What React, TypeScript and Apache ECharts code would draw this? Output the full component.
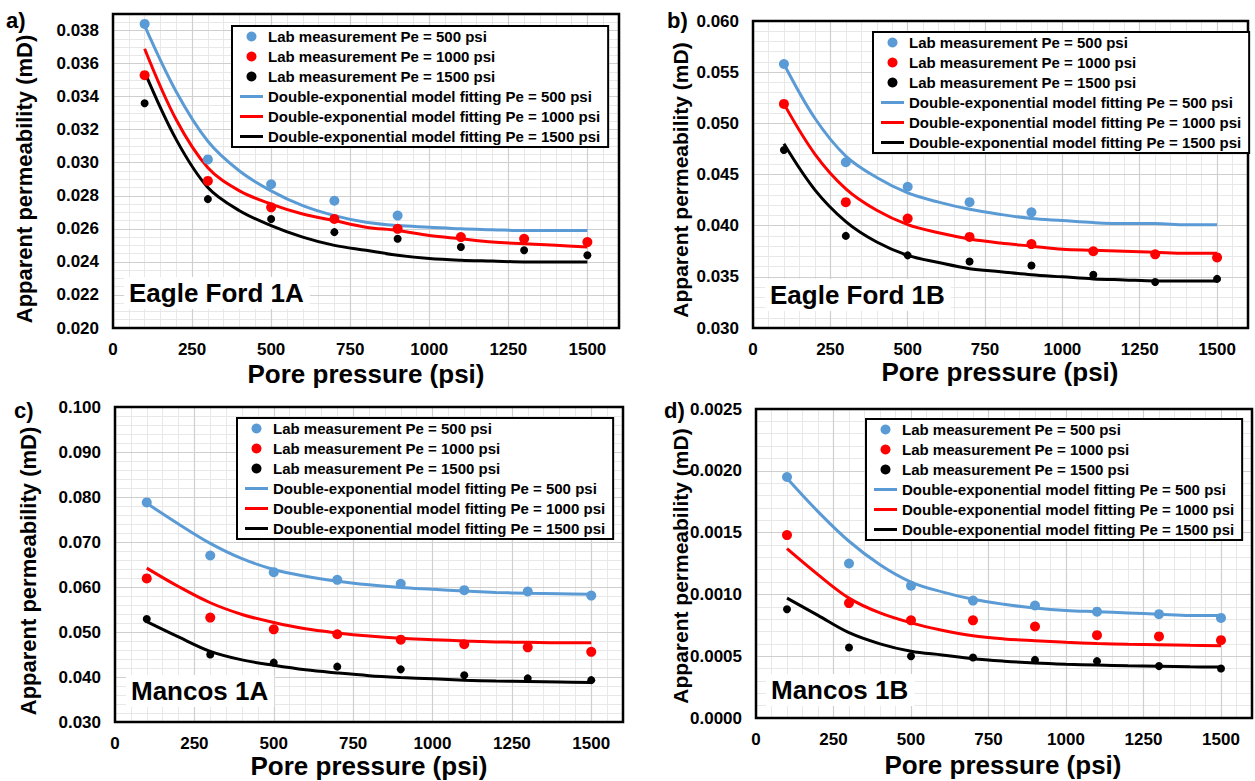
import React, { useEffect, useRef } from 'react';
import * as echarts from 'echarts';

// ---------- data ----------
const pressures = [100, 300, 500, 700, 900, 1100, 1300, 1500];
const fitPressures = [100, 200, 300, 400, 500, 600, 700, 800, 900, 1000, 1100, 1200, 1300, 1400, 1500];
const xTickLabels = [0, 250, 500, 750, 1000, 1250, 1500];

const seriesNames = [
  'Lab measurement Pe = 500 psi',
  'Lab measurement Pe = 1000 psi',
  'Lab measurement Pe = 1500 psi',
  'Double-exponential model fitting Pe = 500 psi',
  'Double-exponential model fitting Pe = 1000 psi',
  'Double-exponential model fitting Pe = 1500 psi',
];
const panelLetters = ['a)', 'b)', 'c)', 'd)'];
const sampleNames = ['Eagle Ford 1A', 'Eagle Ford 1B', 'Mancos 1A', 'Mancos 1B'];

// a) Eagle Ford 1A
const efaLab500 = [0.0384, 0.0302, 0.0287, 0.0277, 0.0268];
const efaLab1000 = [0.0353, 0.0289, 0.0273, 0.0266, 0.026, 0.0255, 0.0254, 0.0252];
const efaLab1500 = [0.0336, 0.0278, 0.0266, 0.0258, 0.0254, 0.0249, 0.0247, 0.0244];
const efaFit500 = [0.0383, 0.0343, 0.0313, 0.0295, 0.0283, 0.0274, 0.0268, 0.0264, 0.0262, 0.0261, 0.026, 0.02595, 0.0259, 0.0259, 0.0259];
const efaFit1000 = [0.0369, 0.0326, 0.0297, 0.0283, 0.0275, 0.0269, 0.0265, 0.0261, 0.0259, 0.0256, 0.0254, 0.0252, 0.0251, 0.025, 0.0249];
const efaFit1500 = [0.0355, 0.0314, 0.0285, 0.0271, 0.0262, 0.0255, 0.025, 0.0247, 0.0244, 0.0242, 0.0241, 0.02405, 0.024, 0.024, 0.024];

// b) Eagle Ford 1B
const efbLab500 = [0.0558, 0.0462, 0.0438, 0.0423, 0.0413];
const efbLab1000 = [0.0519, 0.0423, 0.0407, 0.0389, 0.0382, 0.0375, 0.0372, 0.0369];
const efbLab1500 = [0.0474, 0.039, 0.0371, 0.0365, 0.0361, 0.0352, 0.0345, 0.0348];
const efbFit500 = [0.0558, 0.0505, 0.0468, 0.0447, 0.0432, 0.0423, 0.0416, 0.0411, 0.0407, 0.0405, 0.0403, 0.0402, 0.0402, 0.0401, 0.0401];
const efbFit1000 = [0.0519, 0.047, 0.0436, 0.0415, 0.0401, 0.0393, 0.0387, 0.0383, 0.038, 0.0377, 0.0376, 0.0375, 0.0374, 0.0373, 0.0373];
const efbFit1500 = [0.048, 0.0435, 0.0404, 0.0384, 0.0371, 0.0364, 0.0358, 0.0355, 0.0352, 0.035, 0.0348, 0.0347, 0.0346, 0.0346, 0.0346];

// c) Mancos 1A
const mcaLab500 = [0.0788, 0.067, 0.0633, 0.0616, 0.0607, 0.0593, 0.059, 0.0581];
const mcaLab1000 = [0.0619, 0.0532, 0.0506, 0.0495, 0.0483, 0.0473, 0.0466, 0.0456];
const mcaLab1500 = [0.0529, 0.045, 0.0432, 0.0423, 0.0417, 0.0404, 0.0397, 0.0393];
const mcaFit500 = [0.0786, 0.074, 0.0697, 0.0663, 0.0639, 0.0624, 0.0613, 0.0605, 0.0599, 0.0595, 0.0591, 0.0588, 0.0586, 0.0585, 0.0584];
const mcaFit1000 = [0.0642, 0.0601, 0.0565, 0.0539, 0.0521, 0.0507, 0.0498, 0.0491, 0.0486, 0.0483, 0.048, 0.0478, 0.0477, 0.0476, 0.0476];
const mcaFit1500 = [0.0523, 0.0489, 0.0457, 0.0438, 0.0426, 0.0416, 0.0409, 0.0403, 0.0399, 0.0396, 0.0393, 0.0391, 0.039, 0.0389, 0.0388];

// d) Mancos 1B
const mcbLab500 = [0.00195, 0.00125, 0.00107, 0.00095, 0.00091, 0.00086, 0.00084, 0.00081];
const mcbLab1000 = [0.00148, 0.00093, 0.00079, 0.00079, 0.00074, 0.00067, 0.00066, 0.00063];
const mcbLab1500 = [0.00088, 0.00057, 0.0005, 0.00049, 0.00047, 0.00046, 0.00042, 0.0004];
const mcbFit500 = [0.00194, 0.00167, 0.00143, 0.00124, 0.0011, 0.00102, 0.00096, 0.00092, 0.00089, 0.00087, 0.00086, 0.00085, 0.00084, 0.00083, 0.00083];
const mcbFit1000 = [0.00137, 0.00116, 0.00097, 0.00085, 0.00077, 0.00071, 0.000665, 0.00064, 0.000625, 0.000612, 0.000603, 0.000596, 0.000592, 0.000588, 0.000585];
const mcbFit1500 = [0.00097, 0.00083, 0.00069, 0.0006, 0.00054, 0.00051, 0.00048, 0.00046, 0.000445, 0.000435, 0.000428, 0.000422, 0.000418, 0.000414, 0.000412];

// y axis settings per panel
const yMins = [0.02, 0.03, 0.03, 0];
const yMaxs = [0.039, 0.06, 0.1, 0.0025];
const yIntervals = [0.002, 0.005, 0.01, 0.0005];
const yMinorIntervals = [0.0005, 0.001, 0.002, 0.0001];
const yDecimals = [3, 3, 3, 4];

const labData = [
  [efaLab500, efaLab1000, efaLab1500],
  [efbLab500, efbLab1000, efbLab1500],
  [mcaLab500, mcaLab1000, mcaLab1500],
  [mcbLab500, mcbLab1000, mcbLab1500],
];
const fitData = [
  [efaFit500, efaFit1000, efaFit1500],
  [efbFit500, efbFit1000, efbFit1500],
  [mcaFit500, mcaFit1000, mcaFit1500],
  [mcbFit500, mcbFit1000, mcbFit1500],
];

// ---------- layout / style ----------
const FONT = 'Arial, "Liberation Sans", sans-serif';
const colors = ['#5B9BD5', '#FF0000', '#000000'];
const grids = [
  { left: 113, top: 14, width: 506, height: 314 },
  { left: 753, top: 21, width: 495, height: 307 },
  { left: 115, top: 407, width: 508, height: 315 },
  { left: 756, top: 409, width: 496, height: 309 },
];
const legendPos = [
  { left: 232, top: 26 },
  { left: 873, top: 32 },
  { left: 237, top: 418 },
  { left: 866, top: 419 },
];
const letterPos = [[6, 20], [667, 20], [14, 410], [664, 410]];
const yTitlePos = [[24, 179], [680, 180], [28, 571], [680, 566]];
const yTitleSize = [22, 21, 22, 21];
const xTitlePos = [[366, 374], [1000, 372], [369, 766], [1003, 765]];
const samplePos = [[124, 293], [765, 295], [126, 691], [766, 690]];

function buildOption() {
  const xAxis: any[] = [];
  const yAxis: any[] = [];
  const series: any[] = [];
  const legend: any[] = [];
  const graphic: any[] = [];

  grids.forEach((g, i) => {
    xAxis.push({
      gridIndex: i, type: 'value', min: 0, max: 1600, interval: 250, z: 1,
      axisLine: { show: false }, axisTick: { show: false },
      axisLabel: {
        margin: 13, color: '#000', fontWeight: 'bold', fontSize: 17, fontFamily: FONT,
        formatter: (v: number) => (xTickLabels.indexOf(Math.round(v)) >= 0 ? String(Math.round(v)) : ''),
      },
      splitLine: { show: true, lineStyle: { color: '#cfcfcf', width: 1.2 } },
    });
    xAxis.push({
      gridIndex: i, type: 'value', min: 0, max: 1600, interval: 50, z: 0,
      axisLine: { show: false }, axisTick: { show: false }, axisLabel: { show: false },
      splitLine: { show: true, lineStyle: { color: '#e8e8e8', width: 1 } },
    });
    yAxis.push({
      gridIndex: i, type: 'value', min: yMins[i], max: yMaxs[i], interval: yIntervals[i], z: 1,
      axisLine: { show: false }, axisTick: { show: false },
      axisLabel: {
        margin: 14, color: '#000', fontWeight: 'bold', fontSize: 17, fontFamily: FONT,
        showMaxLabel: i !== 0,
        formatter: (v: number) => v.toFixed(yDecimals[i]),
      },
      splitLine: { show: true, lineStyle: { color: '#cfcfcf', width: 1.2 } },
    });
    yAxis.push({
      gridIndex: i, type: 'value', min: yMins[i], max: yMaxs[i], interval: yMinorIntervals[i], z: 0,
      axisLine: { show: false }, axisTick: { show: false }, axisLabel: { show: false },
      splitLine: { show: true, lineStyle: { color: '#e8e8e8', width: 1 } },
    });

    fitData[i].forEach((vals, k) => {
      series.push({
        name: seriesNames[3 + k], type: 'line', xAxisIndex: 2 * i, yAxisIndex: 2 * i,
        data: vals.map((v, j) => [fitPressures[j], v]),
        smooth: 0.35, symbol: 'none', z: 3,
        lineStyle: { color: colors[k], width: 3 }, itemStyle: { color: colors[k] },
      });
    });
    labData[i].forEach((vals, k) => {
      series.push({
        name: seriesNames[k], type: 'scatter', xAxisIndex: 2 * i, yAxisIndex: 2 * i,
        data: vals.map((v, j) => [pressures[j], v]),
        symbol: 'circle', symbolSize: k === 2 ? 8 : 10, z: 4,
        itemStyle: { color: colors[k], opacity: 1 },
      });
    });

    legend.push({
      ...legendPos[i], orient: 'vertical', z: 10,
      itemWidth: 23, itemHeight: 10, itemGap: 5,
      padding: [3, 8, 3, 8],
      backgroundColor: '#fff', borderColor: '#000', borderWidth: 2,
      selectedMode: false,
      textStyle: { color: '#000', fontWeight: 'bold', fontSize: 15, fontFamily: FONT },
      data: seriesNames.map((n, k) =>
        k < 3 ? { name: n, icon: 'circle' } : { name: n, icon: 'path://M0,0H23V3H0Z' }
      ),
    });

    graphic.push({
      type: 'text', x: letterPos[i][0], y: letterPos[i][1], z: 5,
      style: { text: panelLetters[i], font: `bold 22px ${FONT}`, fill: '#000', align: 'left', verticalAlign: 'middle' },
    });
    graphic.push({
      type: 'text', x: yTitlePos[i][0], y: yTitlePos[i][1], rotation: Math.PI / 2, z: 5,
      style: {
        text: 'Apparent permeability (mD)',
        font: `bold ${yTitleSize[i]}px ${FONT}`,
        fill: '#000', align: 'center', verticalAlign: 'middle',
      },
    });
    graphic.push({
      type: 'text', x: xTitlePos[i][0], y: xTitlePos[i][1], z: 5,
      style: { text: 'Pore pressure (psi)', font: `bold 26px ${FONT}`, fill: '#000', align: 'center', verticalAlign: 'middle' },
    });
    graphic.push({
      type: 'text', x: samplePos[i][0], y: samplePos[i][1], z: 2,
      style: {
        text: sampleNames[i], font: `bold 26px ${FONT}`, fill: '#000', align: 'left', verticalAlign: 'middle',
        backgroundColor: '#fff', padding: [3, 6, 3, 5],
      },
    });
  });

  return {
    animation: false,
    backgroundColor: '#fff',
    grid: grids.map((g) => ({ ...g, show: true, borderColor: '#000', borderWidth: 2.5, backgroundColor: 'transparent', z: 6 })),
    xAxis, yAxis, series, legend, graphic,
  };
}

export default function App() {
  const ref = useRef<HTMLDivElement>(null);
  useEffect(() => {
    if (!ref.current) return;
    const chart = echarts.init(ref.current, null, { renderer: 'svg' });
    chart.setOption(buildOption() as any);
    return () => chart.dispose();
  }, []);
  return (
    <div
      ref={ref}
      style={{ position: 'absolute', left: 0, top: 0, width: 1255, height: 781, background: '#fff' }}
    />
  );
}
